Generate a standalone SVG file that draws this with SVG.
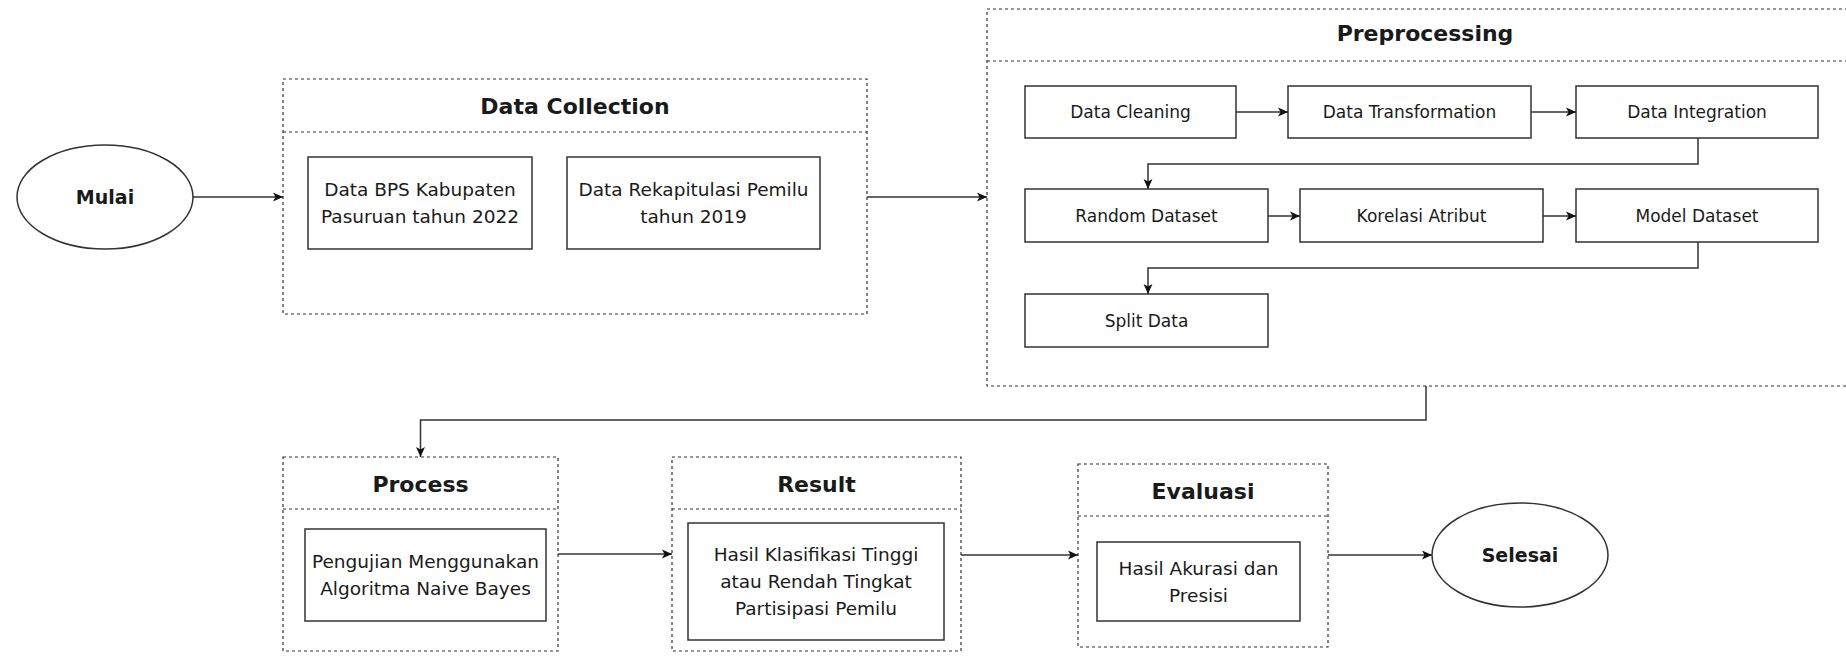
<svg xmlns="http://www.w3.org/2000/svg" width="1846" height="656" viewBox="0 0 1846 656">
<style>
  text { font-family: "DejaVu Sans", "Liberation Sans", sans-serif; fill: #1a1a1a; text-anchor: middle; }
  .title { font-size: 22px; font-weight: bold; }
  .term { font-size: 19px; font-weight: bold; }
  .body { font-size: 18.5px; }
  .small { font-size: 17px; }
  .container { fill: #ffffff; stroke: #333333; stroke-width: 1.2; stroke-dasharray: 3 3; }
  .divider { fill: none; stroke: #333333; stroke-width: 1.2; stroke-dasharray: 3 3; }
  .box { fill: #ffffff; stroke: #333333; stroke-width: 1.5; }
  .oval { fill: #ffffff; stroke: #333333; stroke-width: 1.5; }
  .conn { fill: none; stroke: #333333; stroke-width: 1.5; marker-end: url(#arrow); }
</style>
<defs>
  <marker id="arrow" markerWidth="11" markerHeight="10" refX="10" refY="5" orient="auto" markerUnits="userSpaceOnUse">
    <path d="M0,0.5 L10,5 L0,9.5 L2.5,5 Z" fill="#111111"/>
  </marker>
</defs>
<rect x="0" y="0" width="1846" height="656" fill="#ffffff"/>

<g id="mulai">
  <ellipse class="oval" cx="105" cy="197" rx="88" ry="52"/>
  <text class="term" x="105" y="204">Mulai</text>
</g>

<g id="data-collection">
  <rect class="container" x="283" y="79" width="584" height="235"/>
  <line class="divider" x1="283" y1="132" x2="867" y2="132"/>
  <text class="title" x="575" y="114">Data Collection</text>
  <g id="data-bps">
    <rect class="box" x="308" y="157" width="224" height="92"/>
    <text class="body" x="420" y="196">Data BPS Kabupaten</text>
    <text class="body" x="420" y="223">Pasuruan tahun 2022</text>
  </g>
  <g id="data-rekap">
    <rect class="box" x="567" y="157" width="253" height="92"/>
    <text class="body" x="693.5" y="196">Data Rekapitulasi Pemilu</text>
    <text class="body" x="693.5" y="223">tahun 2019</text>
  </g>
</g>

<g id="preprocessing">
  <rect class="container" x="987" y="9" width="880" height="377"/>
  <line class="divider" x1="987" y1="61" x2="1867" y2="61"/>
  <text class="title" x="1425" y="41">Preprocessing</text>
  <g id="data-cleaning">
    <rect class="box" x="1025" y="86" width="211" height="52"/>
    <text class="small" x="1130.5" y="118">Data Cleaning</text>
  </g>
  <g id="data-transformation">
    <rect class="box" x="1288" y="86" width="243" height="52"/>
    <text class="small" x="1409.5" y="118">Data Transformation</text>
  </g>
  <g id="data-integration">
    <rect class="box" x="1576" y="86" width="242" height="52"/>
    <text class="small" x="1697" y="118">Data Integration</text>
  </g>
  <g id="random-dataset">
    <rect class="box" x="1025" y="189" width="243" height="53"/>
    <text class="small" x="1146.5" y="221.5">Random Dataset</text>
  </g>
  <g id="korelasi-atribut">
    <rect class="box" x="1300" y="189" width="243" height="53"/>
    <text class="small" x="1421.5" y="221.5">Korelasi Atribut</text>
  </g>
  <g id="model-dataset">
    <rect class="box" x="1576" y="189" width="242" height="53"/>
    <text class="small" x="1697" y="221.5">Model Dataset</text>
  </g>
  <g id="split-data">
    <rect class="box" x="1025" y="294" width="243" height="53"/>
    <text class="small" x="1146.5" y="326.5">Split Data</text>
  </g>
</g>

<g id="process">
  <rect class="container" x="283" y="457" width="275" height="194"/>
  <line class="divider" x1="283" y1="509" x2="558" y2="509"/>
  <text class="title" x="420.5" y="492">Process</text>
  <g id="pengujian">
    <rect class="box" x="305" y="529" width="241" height="92"/>
    <text class="body" x="425.5" y="568">Pengujian Menggunakan</text>
    <text class="body" x="425.5" y="595">Algoritma Naive Bayes</text>
  </g>
</g>

<g id="result">
  <rect class="container" x="672" y="457" width="289" height="194"/>
  <line class="divider" x1="672" y1="509" x2="961" y2="509"/>
  <text class="title" x="816.5" y="492">Result</text>
  <g id="hasil-klasifikasi">
    <rect class="box" x="688" y="523" width="256" height="117"/>
    <text class="body" x="816" y="561">Hasil Klasifikasi Tinggi</text>
    <text class="body" x="816" y="588">atau Rendah Tingkat</text>
    <text class="body" x="816" y="615">Partisipasi Pemilu</text>
  </g>
</g>

<g id="evaluasi">
  <rect class="container" x="1078" y="464" width="250" height="183"/>
  <line class="divider" x1="1078" y1="516" x2="1328" y2="516"/>
  <text class="title" x="1203" y="499">Evaluasi</text>
  <g id="hasil-akurasi">
    <rect class="box" x="1097" y="542" width="203" height="79"/>
    <text class="body" x="1198.5" y="575">Hasil Akurasi dan</text>
    <text class="body" x="1198.5" y="602">Presisi</text>
  </g>
</g>

<g id="selesai">
  <ellipse class="oval" cx="1520" cy="555" rx="88" ry="52"/>
  <text class="term" x="1520" y="562">Selesai</text>
</g>

<g id="connectors">
  <path class="conn" d="M193,197 H283"/>
  <path class="conn" d="M867,197 H987"/>
  <path class="conn" d="M1236,112 H1288"/>
  <path class="conn" d="M1531,112 H1576"/>
  <path class="conn" d="M1698,138 V164 H1148 V189"/>
  <path class="conn" d="M1268,216 H1300"/>
  <path class="conn" d="M1543,216 H1576"/>
  <path class="conn" d="M1698,242 V268 H1148 V294"/>
  <path class="conn" d="M1426,386 V420 H420.5 V457"/>
  <path class="conn" d="M558,554 H672"/>
  <path class="conn" d="M961,555 H1078"/>
  <path class="conn" d="M1328,555 H1432"/>
</g>
</svg>
